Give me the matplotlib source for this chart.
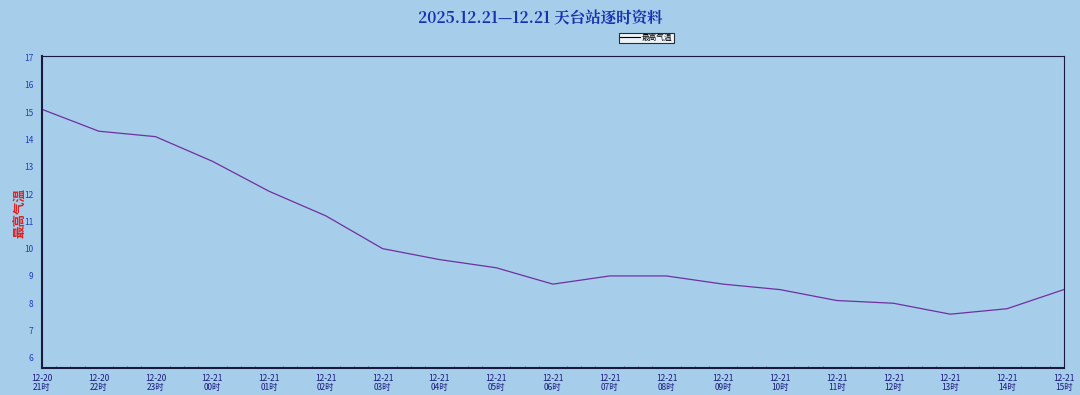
import matplotlib
matplotlib.use("Agg")
import matplotlib.pyplot as plt
from matplotlib.ticker import AutoMinorLocator

plt.rcParams['font.family'] = ['Noto Sans CJK SC', 'DejaVu Sans']

title = "2025.12.21—12.21 天台站逐时资料"
series_name = "最高气温"
x_labels = ["12-20\n21时", "12-20\n22时", "12-20\n23时", "12-21\n00时", "12-21\n01时",
            "12-21\n02时", "12-21\n03时", "12-21\n04时", "12-21\n05时", "12-21\n06时",
            "12-21\n07时", "12-21\n08时", "12-21\n09时", "12-21\n10时", "12-21\n11时",
            "12-21\n12时", "12-21\n13时", "12-21\n14时", "12-21\n15时"]
temps = [15.1, 14.3, 14.1, 13.2, 12.1, 11.2, 10.0, 9.6, 9.3, 8.7,
         9.0, 9.0, 8.7, 8.5, 8.1, 8.0, 7.6, 7.8, 8.5]
y_ticks = [6, 7, 8, 9, 10, 11, 12, 13, 14, 15, 16, 17]

bg = '#a6cdea'
fig = plt.figure(figsize=(10.8, 3.95), dpi=100, facecolor=bg)
ax = fig.add_axes([0.0389, 0.0684, 0.9461, 0.7896])
ax.set_facecolor(bg)

xs = list(range(len(temps)))
ax.plot(xs, temps, color='#7030a0', lw=0.9, label=series_name)

ax.set_xlim(0, len(temps) - 1)
ax.set_ylim(5.63, 17.05)
ax.set_xticks(xs)
ax.set_xticklabels(x_labels, fontsize=6, color='#1a1a80', linespacing=1.0)
ax.set_yticks(y_ticks)
ax.set_yticklabels([str(v) for v in y_ticks], fontsize=6, color='#2040c0')
ax.tick_params(axis='x', length=0, pad=4)
ax.tick_params(axis='y', length=0, pad=6)
ax.xaxis.set_minor_locator(AutoMinorLocator(4))
ax.tick_params(axis='x', which='minor', length=1.5, direction='in', color='#555577')

for sp in ax.spines.values():
    sp.set_color('#1a1a40')
    sp.set_linewidth(0.8)
ax.spines['left'].set_linewidth(1.5)
ax.spines['bottom'].set_linewidth(1.5)

fig.text(0.5, 0.952, title, ha='center', va='center', fontsize=11.2, fontweight='bold',
         color='#1a30b0', family=['Noto Serif CJK SC', 'Noto Sans CJK SC', 'DejaVu Serif'])
fig.text(0.018, 0.46, series_name, rotation=90, ha='center', va='center', fontsize=9,
         fontweight='bold', color='#e02020')

leg = ax.legend(loc='upper left', bbox_to_anchor=(0.565, 1.075), fontsize=5.5,
                frameon=True, fancybox=False, borderpad=0.15, handlelength=2.5,
                handletextpad=0.3, borderaxespad=0)
leg.get_frame().set_edgecolor('black')
leg.get_frame().set_linewidth(0.8)
leg.get_frame().set_facecolor('white')
for line in leg.get_lines():
    line.set_color('black')
    line.set_linewidth(0.8)

fig.savefig('out.png', dpi=100, facecolor=bg)
